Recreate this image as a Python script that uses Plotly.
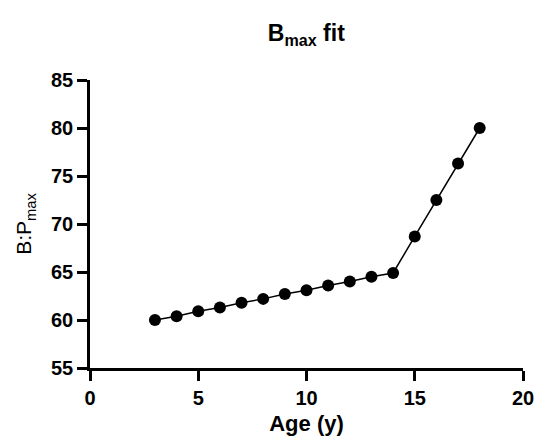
import plotly.graph_objects as go

age = [3, 4, 5, 6, 7, 8, 9, 10, 11, 12, 13, 14, 15, 16, 17, 18]
bp_max = [60.0, 60.4, 60.9, 61.3, 61.8, 62.2, 62.7, 63.1, 63.6, 64.0, 64.5, 64.9, 68.7, 72.5, 76.3, 80.0]

x_ticks = [0, 5, 10, 15, 20]
y_ticks = [55, 60, 65, 70, 75, 80, 85]

fig = go.Figure(go.Scatter(
    x=age, y=bp_max, mode="lines+markers",
    line=dict(color="black", width=1.5),
    marker=dict(color="black", size=12),
    cliponaxis=False,
))

font = "Liberation Sans, Arial, sans-serif"
fig.update_layout(
    width=536, height=444,
    margin=dict(l=90, r=13, t=80, b=76, autoexpand=False),
    paper_bgcolor="white", plot_bgcolor="white",
    showlegend=False,
    title=dict(text="<b>B<sub>max</sub> fit</b>", x=0.5715, xanchor="center",
               y=0.925, yanchor="middle",
               font=dict(family=font, size=23, color="black", weight="bold")),
    font=dict(family=font, color="black"),
)
fig.update_xaxes(
    range=[0, 20], tickvals=x_ticks, ticktext=[f"<b>{v}</b>" for v in x_ticks],
    showgrid=False, zeroline=False, showline=True, linecolor="black", linewidth=2.5,
    ticks="outside", ticklen=10, tickwidth=2.5, tickcolor="black", automargin=False,
    tickfont=dict(family=font, size=20, color="black", weight="bold"),
    title=dict(text="<b>Age (y)</b>", font=dict(family=font, size=22, color="black", weight="bold"), standoff=8),
)
fig.update_yaxes(
    range=[55, 85], tickvals=y_ticks, ticktext=[f"<b>{v}</b>" for v in y_ticks],
    showgrid=False, zeroline=False, showline=True, linecolor="black", linewidth=2.5,
    ticks="outside", ticklen=10, tickwidth=2.5, tickcolor="black", automargin=False,
    tickfont=dict(family=font, size=20, color="black", weight="bold"),
    title=dict(text="B:P<sub>max</sub>", font=dict(family=font, size=21, color="black"), standoff=14),
)
fig.write_html("out.html", config={"displayModeBar": False},
               post_script="document.body.style.margin='0';document.body.style.overflow='hidden';")
